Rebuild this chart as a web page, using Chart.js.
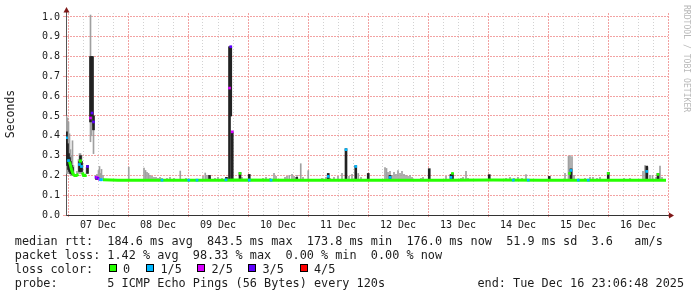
<!DOCTYPE html>
<html>
<head>
<meta charset="utf-8">
<script src="https://cdn.jsdelivr.net/npm/chart.js@4.4.1/dist/chart.umd.min.js"></script>
<style>
  html, body { margin: 0; padding: 0; background: #fff; }
  #wrap { position: relative; width: 697px; height: 297px; overflow: hidden; background: #fff; }
  #c { position: absolute; left: 0; top: 0; }
  .t { position: absolute; left: 14.8px; font-family: 'DejaVu Sans Mono', monospace; font-size: 11.83px; line-height: 14px; white-space: pre; color: #1c1c1c; }
  .sq { position: absolute; top: 264px; width: 6px; height: 6px; border: 1px solid #000; }
  #wm { position: absolute; left: 683px; top: 5px; font-family: 'DejaVu Sans Mono', monospace; font-size: 8.1px; line-height: 8px; writing-mode: vertical-rl; color: #b8b8b8; white-space: pre; }
</style>
</head>
<body>
<div id="wrap">
  <canvas id="c" width="697" height="297" style="width:697px;height:297px"></canvas>
  <div class="t" style="top:233.5px">median rtt:  184.6 ms avg  843.5 ms max  173.8 ms min  176.0 ms now  51.9 ms sd  3.6   am/s</div>
  <div class="t" style="top:247.5px">packet loss: 1.42 % avg  98.33 % max  0.00 % min  0.00 % now</div>
  <div class="t" style="top:261.8px">loss color:</div>
  <div id="lossLegend"></div>
  <div class="t" style="top:276px">probe:       5 ICMP Echo Pings (56 Bytes) every 120s</div>
  <div class="t" style="top:276px;left:477.5px">end: Tue Dec 16 23:06:48 2025</div>
  <div id="wm">RRDTOOL / TOBI OETIKER</div>
</div>
<script>
// ---- data (x = hours since 07 Dec 00:00, y = seconds) ----
const dayLabels = ['07 Dec','08 Dec','09 Dec','10 Dec','11 Dec','12 Dec','13 Dec','14 Dec','15 Dec','16 Dec'];
const lossLabels = ['0','1/5','2/5','3/5','4/5'];
const lossColors = ['#26ff00','#00b8ff','#d800ff','#5e00ff','#ff0000'];

// light smoke: [hour, low, high]
const smokeLight = [
  [-0.6,0.21,0.50],[-0.2,0.21,0.49],[0.2,0.21,0.47],[0.6,0.21,0.41],[1.0,0.20,0.33],[1.4,0.20,0.30],
  [1.8,0.20,0.375],[2.2,0.20,0.25],[3.6,0.20,0.22],[4.2,0.21,0.28],[4.6,0.21,0.31],[5.0,0.21,0.31],
  [5.4,0.21,0.30],[5.8,0.20,0.26],[7.4,0.21,0.24],[7.8,0.21,0.25],[9.0,0.37,1.01],[9.4,0.40,0.80],
  [9.8,0.45,0.80],[10.2,0.31,0.50],[11.2,0.18,0.20],[11.6,0.18,0.205],[12.2,0.18,0.225],[12.6,0.18,0.245],
  [13.0,0.18,0.21],[13.4,0.18,0.23],[14.0,0.18,0.20],
  [24.3,0.174,0.242],[30.4,0.174,0.237],[31.0,0.174,0.225],[31.6,0.174,0.215],[32.2,0.174,0.21],
  [32.8,0.174,0.20],[33.6,0.174,0.195],[34.4,0.174,0.19],[35.2,0.174,0.19],[36.0,0.174,0.185],
  [36.8,0.174,0.19],[37.6,0.174,0.185],[39.6,0.174,0.185],[40.8,0.174,0.19],[42.4,0.174,0.185],
  [44.9,0.174,0.222],[47.2,0.174,0.185],[54.0,0.174,0.195],[54.9,0.174,0.212],[55.6,0.174,0.20],
  [56.8,0.174,0.19],[58.8,0.174,0.185],[60.0,0.174,0.19],[61.6,0.174,0.185],[63.2,0.174,0.19],
  [69.6,0.174,0.19],[78.0,0.174,0.185],[79.2,0.174,0.19],[80.8,0.174,0.185],[82.4,0.174,0.21],
  [83.2,0.174,0.195],[86.8,0.174,0.19],[87.6,0.174,0.195],[88.5,0.174,0.20],[89.6,0.174,0.205],
  [90.4,0.174,0.195],[91.6,0.174,0.20],[93.1,0.174,0.259],[94.0,0.174,0.19],[96.1,0.174,0.224],
  [101.6,0.174,0.185],[103.2,0.174,0.19],[104.8,0.174,0.185],[106.4,0.174,0.19],[108.0,0.174,0.195],
  [109.6,0.174,0.21],[112.4,0.174,0.195],[113.6,0.174,0.205],[116.1,0.174,0.21],[117.2,0.174,0.19],
  [126.8,0.174,0.24],[127.4,0.174,0.235],[128.0,0.174,0.215],[128.8,0.174,0.22],[129.6,0.174,0.20],
  [130.4,0.174,0.215],[131.2,0.174,0.205],[132.0,0.174,0.224],[132.8,0.174,0.21],[133.6,0.174,0.22],
  [134.4,0.174,0.205],[135.2,0.174,0.20],[136.0,0.174,0.195],[136.8,0.174,0.20],[137.6,0.174,0.19],
  [141.2,0.174,0.185],[142.0,0.174,0.19],[151.2,0.174,0.195],[157.2,0.174,0.185],[158.0,0.174,0.19],
  [159.2,0.174,0.22],[160.0,0.174,0.185],[175.2,0.174,0.185],[176.8,0.174,0.19],[178.4,0.174,0.185],
  [180.0,0.174,0.19],[181.6,0.174,0.185],[183.2,0.174,0.204],[198.8,0.174,0.21],[200.2,0.174,0.296],
  [200.8,0.174,0.30],[201.6,0.174,0.295],[202.4,0.174,0.20],[206.8,0.174,0.185],[208.8,0.174,0.19],
  [210.0,0.174,0.19],[211.6,0.174,0.185],[212.8,0.174,0.19],[222.4,0.174,0.185],[224.8,0.174,0.185],
  [230.0,0.174,0.22],[230.8,0.174,0.249],[231.8,0.174,0.24],[232.8,0.174,0.20],[233.8,0.174,0.20],
  [235.2,0.174,0.19],[236.0,0.174,0.21],[236.8,0.174,0.247],[237.6,0.174,0.19]
];

// dark smoke: [hour, low, high]
const smokeDark = [
  [-0.6,0.28,0.42],[-0.2,0.25,0.36],[0.2,0.23,0.31],[0.6,0.22,0.29],[1.0,0.21,0.27],[1.4,0.21,0.25],
  [1.8,0.205,0.24],[4.6,0.22,0.27],[5.0,0.22,0.30],[5.4,0.22,0.27],[7.8,0.21,0.25],[9.0,0.47,0.80],
  [9.4,0.50,0.80],[9.8,0.50,0.80],[10.2,0.43,0.50],[11.4,0.18,0.19],[56.6,0.174,0.20],[63.4,0.174,0.19],
  [64.6,0.174,0.85],[65.1,0.50,0.85],[65.7,0.174,0.42],[68.8,0.174,0.215],[72.5,0.174,0.205],
  [91.5,0.174,0.19],[104.1,0.174,0.21],[111.2,0.174,0.335],[115.1,0.174,0.249],[120.1,0.174,0.21],
  [128.8,0.174,0.20],[144.5,0.174,0.234],[153.2,0.174,0.205],[153.8,0.174,0.21],[168.5,0.174,0.204],
  [192.5,0.174,0.195],[201.2,0.174,0.233],[216.1,0.174,0.215],[231.5,0.174,0.247],[236.0,0.174,0.21]
];

// median rtt with 0 loss (green line): [hour, seconds|null]
const medianLine = [
  [0.6,0.27],[1.0,0.25],[1.4,0.23],[1.8,0.215],[2.2,0.203],[2.6,0.20],[3.0,0.20],[3.4,0.20],[3.8,0.202],[4.2,0.205],
  [4.4,null],[4.8,0.28],[5.0,0.265],[5.2,null],
  [5.8,0.215],[6.2,0.20],[6.6,0.20],[7.0,0.20],[7.4,0.202],[7.6,null],
  [14.0,0.178],[20.0,0.176],[40.0,0.176],[64.0,0.176],[66.0,0.177],[90.0,0.176],[120.0,0.176],
  [150.0,0.176],[170.0,0.177],[190.0,0.176],[215.0,0.176],[239.2,0.176]
];

// median points coloured by loss: [hour, seconds, loss level]
const lossMarks = [
  [-0.6,0.39,1],[0.2,0.275,1],[4.6,0.255,1],[5.4,0.245,1],[7.8,0.245,3],[9.0,0.49,2],[9.6,0.515,3],
  [10.2,0.47,3],[11.2,0.19,3],[11.6,0.19,2],[12.0,0.185,3],[12.6,0.18,2],[13.0,0.178,1],[13.4,0.178,1],
  [37.6,0.176,1],[48.3,0.176,1],[51.6,0.176,1],[63.2,0.178,1],[64.6,0.641,2],[65.1,0.85,3],[65.7,0.42,2],
  [68.8,0.21,0],[72.5,0.176,1],[81.2,0.176,1],[104.1,0.195,1],[111.2,0.33,1],[115.1,0.245,1],
  [128.8,0.19,1],[153.2,0.19,1],[153.8,0.21,0],[178.1,0.176,1],[184.1,0.176,1],[200.6,0.21,0],
  [201.2,0.225,1],[204.1,0.176,1],[208.1,0.176,1],[216.1,0.21,0],[231.5,0.22,1],[236.0,0.205,0]
];

// ---- legend squares ----
(function(){
  const lg = document.getElementById('lossLegend');
  const sqX = [108.5, 146, 197, 248, 299.5];
  lossLabels.forEach((lab, i) => {
    const s = document.createElement('div');
    s.className = 'sq'; s.style.left = sqX[i] + 'px'; s.style.background = lossColors[i];
    lg.appendChild(s);
    const t = document.createElement('div');
    t.className = 't'; t.style.left = (sqX[i] + 14.5) + 'px'; t.style.top = '261.8px'; t.textContent = lab;
    lg.appendChild(t);
  });
})();

const MONO = "'DejaVu Sans Mono', monospace";
const RED = '#f2a2a2';
const GRAY = '#d2d2d2';
const XMIN = -0.8, XMAX = 240;

const arrows = {
  id: 'arrows',
  afterDraw(chart) {
    const { ctx, chartArea: a } = chart;
    ctx.save();
    ctx.strokeStyle = '#444'; ctx.lineWidth = 1;
    ctx.beginPath();
    ctx.moveTo(a.right, a.bottom + 0.5); ctx.lineTo(a.right + 3, a.bottom + 0.5);
    ctx.moveTo(a.left + 0.5, a.top); ctx.lineTo(a.left + 0.5, a.top - 2);
    ctx.stroke();
    ctx.fillStyle = '#7f1818';
    ctx.beginPath();
    ctx.moveTo(a.right + 1, a.bottom - 2.5); ctx.lineTo(a.right + 6, a.bottom + 0.5); ctx.lineTo(a.right + 1, a.bottom + 3.5);
    ctx.closePath(); ctx.fill();
    ctx.beginPath();
    ctx.moveTo(a.left - 2.5, a.top - 0.5); ctx.lineTo(a.left + 0.5, a.top - 6); ctx.lineTo(a.left + 3.5, a.top - 0.5);
    ctx.closePath(); ctx.fill();
    ctx.restore();
  }
};

new Chart(document.getElementById('c'), {
  type: 'bar',
  data: {
    datasets: [
      { type: 'bar', label: 'smoke', order: 4, xAxisID: 'x', yAxisID: 'y',
        data: smokeLight.map(d => ({ x: d[0], y: [d[1], d[2]] })),
        backgroundColor: '#a0a0a0', borderWidth: 0, barThickness: 1, grouped: false },
      { type: 'bar', label: 'smoke dark', order: 3, xAxisID: 'x', yAxisID: 'y',
        data: smokeDark.map(d => ({ x: d[0], y: [d[1], d[2]] })),
        backgroundColor: '#222222', borderWidth: 0, barThickness: 2, grouped: false },
      { type: 'line', label: 'median', order: 2, xAxisID: 'x', yAxisID: 'y',
        data: medianLine.map(d => ({ x: d[0], y: d[1] })),
        borderColor: lossColors[0], borderWidth: 3, pointRadius: 0, spanGaps: false, tension: 0 },
      { type: 'line', label: 'loss', order: 1, xAxisID: 'x', yAxisID: 'y', showLine: false,
        data: lossMarks.map(d => ({ x: d[0], y: d[1], l: d[2] })),
        pointStyle: 'rect', pointRadius: 1.9, pointBorderWidth: 0,
        pointBackgroundColor: ctx => lossColors[ctx.raw ? ctx.raw.l : 0] }
    ]
  },
  options: {
    responsive: false, animation: false, devicePixelRatio: 1,
    layout: { padding: { top: 13, right: 29, left: 0, bottom: 0 } },
    plugins: { legend: { display: false }, tooltip: { enabled: false } },
    scales: {
      x2: {
        type: 'linear', position: 'bottom', weight: 0, min: XMIN, max: XMAX, offset: false,
        afterFit: s => { s.height = 0; },
        ticks: { display: false, stepSize: 24, includeBounds: false },
        grid: { color: RED, lineWidth: 1, tickLength: 2, tickColor: RED, offset: false },
        border: { display: false, dash: [2, 1] }
      },
      x: {
        type: 'linear', position: 'bottom', weight: 1, min: XMIN, max: XMAX, offset: false,
        afterFit: s => { s.height = 82; },
        ticks: {
          stepSize: 6, includeBounds: false, autoSkip: false, maxRotation: 0, minRotation: 0, padding: 2,
          color: '#1a1a1a', font: { family: MONO, size: 10 },
          callback: v => (v % 24 === 12 ? dayLabels[(v - 12) / 24] : '')
        },
        grid: {
          color: c => (c.tick && c.tick.value % 24 === 0 ? 'rgba(0,0,0,0)' : GRAY),
          lineWidth: 1, tickLength: 2, tickColor: 'rgba(0,0,0,0)', offset: false
        },
        border: { display: true, color: '#333', width: 1, dash: [1, 2] }
      },
      y: {
        type: 'linear', position: 'left', min: 0, max: 1.0202,
        afterFit: s => { s.width = 66; },
        ticks: { stepSize: 0.1, includeBounds: false, padding: 3, color: '#1a1a1a',
          font: { family: MONO, size: 10 }, callback: v => Number(v).toFixed(1) },
        grid: { color: RED, lineWidth: 1, tickLength: 3, tickColor: RED },
        border: { display: true, color: '#555', width: 1, dash: [2, 1] },
        title: { display: true, text: 'Seconds', color: '#1a1a1a', font: { family: MONO, size: 11.5 },
          padding: { top: 4, bottom: 0 } }
      }
    }
  },
  plugins: [arrows]
});
</script>
</body>
</html>
